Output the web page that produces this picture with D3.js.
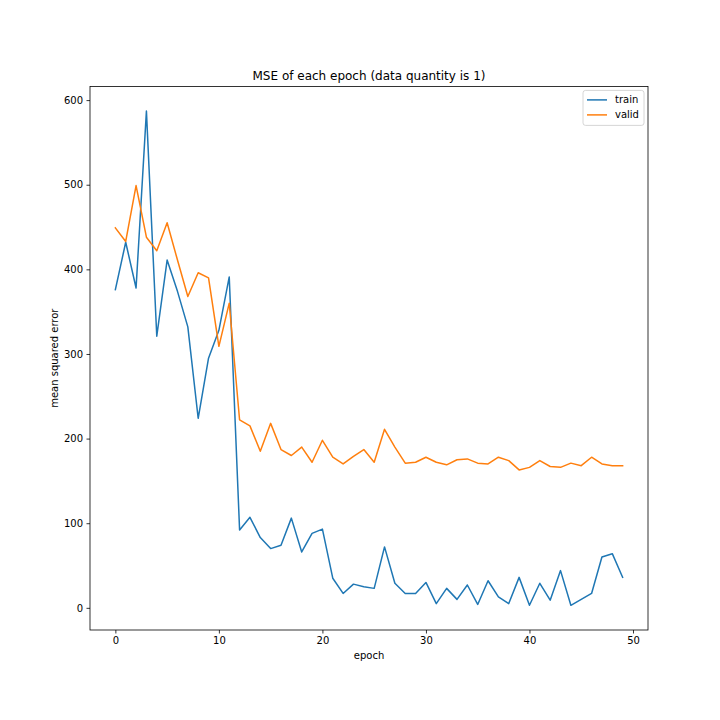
<!DOCTYPE html>
<html>
<head>
<meta charset="utf-8">
<script src="https://cdn.jsdelivr.net/npm/d3@7"></script>
<style>
  body { margin: 0; background: #fff; }
  svg { display: block; font-family: "DejaVu Sans", sans-serif; }
</style>
</head>
<body>
<svg id="chart"></svg>
<script>
const width = 720;
const height = 720;
const margin = { top: 86.4, right: 72, bottom: 90, left: 90 };

// values
const epochs = d3.range(50);
const trainMse = [
  376, 432, 378, 587, 321, 411, 374, 332, 224, 295,
  328, 391, 92, 107, 83, 70, 74, 106, 66, 88,
  93, 35, 17, 28, 25, 23, 72, 29, 17, 17,
  30, 5, 23, 10, 27, 4, 32, 13, 5, 36,
  3, 29, 9, 44, 3, 10, 17, 60, 64, 36
];
const validMse = [
  449, 433, 499, 438, 422, 455, 411, 368, 396, 390,
  309, 360, 222, 215, 185, 218, 187, 180, 190, 172,
  198, 178, 170, 179, 187, 172, 211, 190, 171, 172,
  178, 172, 169, 175, 176, 171, 170, 178, 174, 163,
  166, 174, 167, 166, 171, 168, 178, 170, 168, 168
];
const seriesNames = ['train', 'valid'];
const seriesColors = ['#1f77b4', '#ff7f0e'];
const xTicks = [0, 10, 20, 30, 40, 50];
const yTicks = [0, 100, 200, 300, 400, 500, 600];

const series = [trainMse, validMse].map((vals, i) => ({
  name: seriesNames[i],
  color: seriesColors[i],
  values: vals.map((v, j) => ({ epoch: epochs[j], mse: v }))
}));

const svg = d3.select('#chart').attr('width', width).attr('height', height);

const plotW = width - margin.left - margin.right;
const plotH = height - margin.top - margin.bottom;

// matplotlib style 5% padding on the data range
const xExt = d3.extent(epochs);
const xPad = (xExt[1] - xExt[0]) * 0.05;
const allVals = trainMse.concat(validMse);
const yExt = d3.extent(allVals);
const yPad = (yExt[1] - yExt[0]) * 0.05;

const x = d3.scaleLinear()
  .domain([xExt[0] - xPad, xExt[1] + xPad])
  .range([margin.left, margin.left + plotW]);
const y = d3.scaleLinear()
  .domain([yExt[0] - yPad, yExt[1] + yPad])
  .range([margin.top + plotH, margin.top]);

// lines
const line = d3.line().x(d => x(d.epoch)).y(d => y(d.mse));
svg.append('g')
  .selectAll('path')
  .data(series)
  .join('path')
    .attr('d', d => line(d.values))
    .attr('fill', 'none')
    .attr('stroke', d => d.color)
    .attr('stroke-width', 1.5)
    .attr('stroke-linejoin', 'round')
    .attr('stroke-linecap', 'square');

// axes
const xAxis = svg.append('g')
  .attr('transform', `translate(0, ${margin.top + plotH})`)
  .call(d3.axisBottom(x).tickValues(xTicks).tickSize(3.5).tickPadding(3.5).tickFormat(d3.format('d')));
const yAxis = svg.append('g')
  .attr('transform', `translate(${margin.left}, 0)`)
  .call(d3.axisLeft(y).tickValues(yTicks).tickSize(3.5).tickPadding(3.5).tickFormat(d3.format('d')));

[xAxis, yAxis].forEach(ax => {
  ax.select('.domain').remove();
  ax.selectAll('.tick line').attr('stroke', '#000').attr('stroke-width', 0.8);
  ax.selectAll('.tick text')
    .attr('fill', '#000')
    .style('font-size', '10px')
    .style('font-family', '"DejaVu Sans", sans-serif');
});

// frame
svg.append('rect')
  .attr('x', margin.left)
  .attr('y', margin.top)
  .attr('width', plotW)
  .attr('height', plotH)
  .attr('fill', 'none')
  .attr('stroke', '#000')
  .attr('stroke-width', 0.8);

// labels
svg.append('text')
  .attr('x', margin.left + plotW / 2)
  .attr('y', margin.top - 6)
  .attr('text-anchor', 'middle')
  .style('font-size', '12px')
  .text('MSE of each epoch (data quantity is 1)');
svg.append('text')
  .attr('x', margin.left + plotW / 2)
  .attr('y', margin.top + plotH + 29)
  .attr('text-anchor', 'middle')
  .style('font-size', '10px')
  .text('epoch');
svg.append('text')
  .attr('transform', 'rotate(-90)')
  .attr('x', -(margin.top + plotH / 2))
  .attr('y', 58)
  .attr('text-anchor', 'middle')
  .style('font-size', '10px')
  .text('mean squared error');

// legend
const legend = svg.append('g')
  .attr('transform', `translate(${margin.left + plotW - 65}, ${margin.top + 4})`);
legend.append('rect')
  .attr('width', 61)
  .attr('height', 35)
  .attr('rx', 2.5)
  .attr('fill', '#fff')
  .attr('fill-opacity', 0.8)
  .attr('stroke', '#cccccc')
  .attr('stroke-width', 0.8);
const items = legend.selectAll('.item')
  .data(series)
  .join('g')
    .attr('class', 'item')
    .attr('transform', (d, i) => `translate(4, ${9.5 + i * 15})`);
items.append('line')
  .attr('x1', 0).attr('x2', 20)
  .attr('stroke', d => d.color)
  .attr('stroke-width', 1.5);
items.append('text')
  .attr('x', 28)
  .attr('dy', '0.35em')
  .style('font-size', '10px')
  .text(d => d.name);
</script>
</body>
</html>
